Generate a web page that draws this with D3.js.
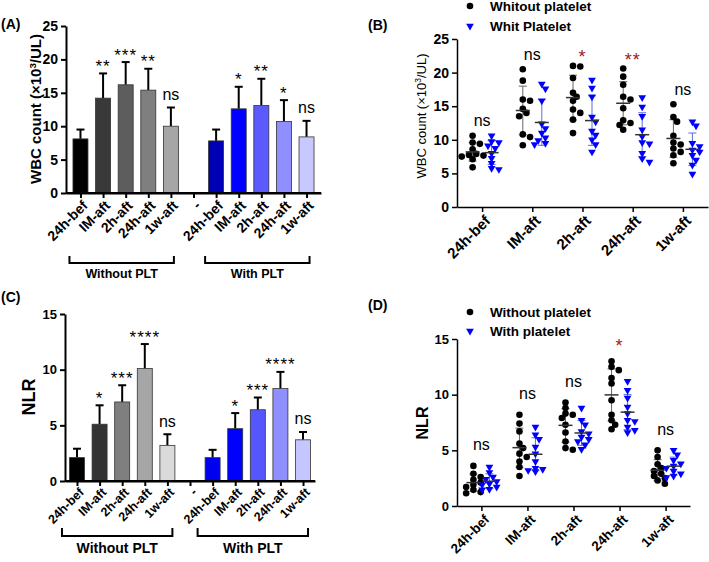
<!DOCTYPE html>
<html><head><meta charset="utf-8">
<script src="https://cdn.jsdelivr.net/npm/d3@7"></script>
<style>
body{margin:0;background:#fff}
svg{display:block}
text{font-family:Arial,"Liberation Sans",sans-serif}
</style>
</head><body>
<svg id="c" width="709" height="562"></svg>
<script>
// ---------------- DATA ----------------
const timepoints = ["24h-bef","IM-aft","2h-aft","24h-aft","1w-aft"];

// Panel A (bars: mean, SD)
const wbcBarWithout = [8.1, 14.2, 16.2, 15.4, 10.0];
const wbcSdWithout  = [1.4, 3.7, 3.4, 3.2, 2.8];
const wbcBarWith    = [7.8, 12.6, 13.1, 10.7, 8.4];
const wbcSdWith     = [1.7, 3.3, 4.0, 3.2, 2.4];
const wbcSigWithout = ["", "**", "***", "**", "ns"];
const wbcSigWith    = ["", "*", "**", "*", "ns"];

// Panel C (bars: mean, SD)
const nlrBarWithout = [2.1, 5.1, 7.1, 10.1, 3.2];
const nlrSdWithout  = [0.8, 1.7, 1.5, 2.2, 1.0];
const nlrBarWith    = [2.1, 4.7, 6.4, 8.3, 3.7];
const nlrSdWith     = [0.7, 1.4, 1.1, 1.5, 0.7];
const nlrSigWithout = ["", "*", "***", "****", "ns"];
const nlrSigWith    = ["", "*", "***", "****", "ns"];

// Panel B (individual points)
const wbcPtsWithout = [
  [10.6, 9.6, 9.4, 8.6, 7.9, 7.75, 7.65, 7.5, 7.1, 5.9],
  [20.5, 18.8, 16.0, 15.8, 14.6, 14.0, 13.5, 10.8, 10.4, 9.2],
  [21.0, 20.9, 19.2, 17.0, 16.4, 15.8, 14.5, 14.0, 13.0, 11.0],
  [20.6, 19.4, 18.2, 16.4, 16.0, 14.7, 12.9, 12.5, 12.2, 11.5],
  [15.3, 13.4, 12.7, 10.6, 9.6, 9.3, 8.7, 8.2, 7.7, 6.5]
];
const wbcPtsWith = [
  [10.6, 9.75, 9.6, 9.1, 8.75, 8.0, 7.25, 6.5, 5.75, 5.6],
  [18.3, 17.6, 15.8, 12.4, 11.7, 11.0, 10.3, 9.9, 9.5, 9.3],
  [18.9, 17.7, 16.4, 13.4, 12.7, 11.3, 10.7, 10.0, 9.3, 8.2],
  [16.3, 14.9, 13.5, 11.5, 10.5, 9.6, 9.4, 8.0, 7.2, 6.7],
  [12.7, 12.1, 9.5, 9.0, 8.5, 8.2, 7.7, 7.0, 6.25, 4.9]
];
const wbcScatterSig = ["ns", "ns", "*", "**", "ns"];

// Panel D (individual points)
const nlrPtsWithout = [
  [3.6, 2.9, 2.6, 2.35, 2.1, 1.9, 1.7, 1.45, 1.25, 1.15],
  [8.2, 7.4, 6.7, 5.6, 5.2, 4.7, 4.4, 4.0, 3.5, 2.7],
  [9.3, 8.8, 8.3, 8.2, 7.9, 7.3, 6.6, 5.8, 5.2, 5.05],
  [13.0, 12.5, 12.2, 11.5, 11.0, 9.5, 8.2, 7.7, 7.3, 6.9],
  [5.0, 4.4, 3.75, 3.4, 3.15, 2.9, 2.7, 2.5, 2.3, 2.0]
];
const nlrPtsWith = [
  [3.5, 3.0, 2.6, 2.4, 2.2, 2.0, 1.9, 1.7, 1.5, 1.45],
  [7.1, 6.4, 6.0, 5.3, 4.7, 4.0, 3.4, 3.3, 3.2, 3.1],
  [8.8, 7.7, 7.3, 6.7, 6.5, 6.2, 6.0, 5.8, 5.5, 5.1],
  [11.2, 10.4, 9.7, 8.9, 8.3, 7.7, 7.6, 7.1, 6.8, 6.6],
  [5.0, 4.6, 4.1, 3.8, 3.6, 3.4, 3.15, 2.9, 2.7, 2.55]
];
const nlrScatterSig = ["ns", "ns", "ns", "*", "ns"];

const wbcTicks = [0, 5, 10, 15, 20, 25];
const nlrTicks = [0, 5, 10, 15];

// ---------------- DRAWING ----------------
const svg = d3.select("#c");
const FONT = 'Arial, "Liberation Sans", sans-serif';

function styleAxis(sel, fs, sw) {
  sel.select(".domain").attr("stroke", "#000").attr("stroke-width", sw);
  sel.selectAll(".tick line").attr("stroke", "#000").attr("stroke-width", sw);
  sel.selectAll(".tick text").attr("fill", "#000").attr("font-size", fs)
     .attr("font-weight", "bold").attr("font-family", FONT);
}

function sigText(g, x, cy, label, color, fsStar, fsNs) {
  if (!label) return;
  const isStar = label.indexOf("*") >= 0;
  const fs = isStar ? fsStar : fsNs;
  g.append("text")
    .attr("x", x).attr("y", cy + (isStar ? fs * 0.62 : fs * 0.27))
    .attr("text-anchor", "middle")
    .attr("font-size", fs)
    .attr("letter-spacing", isStar ? 1 : 0)
    .attr("fill", color)
    .text(label);
}

function barPanel(o) {
  const g = svg.append("g");
  const labels = timepoints.concat(["-"], timepoints);
  const idx = d3.range(labels.length);
  const x = d3.scalePoint().domain(idx).range([o.x0, o.x1]).padding(o.pad);
  const y = d3.scaleLinear().domain([0, o.max]).range([o.y0, o.y1]);

  const ya = g.append("g").attr("transform", `translate(${o.x0},0)`)
    .call(d3.axisLeft(y).tickValues(o.ticks).tickSize(5).tickPadding(3).tickSizeOuter(0));
  styleAxis(ya, o.yfs, 2);

  const xa = g.append("g").attr("transform", `translate(0,${o.y0})`)
    .call(d3.axisBottom(x).tickFormat(i => labels[i]).tickSize(5).tickSizeOuter(0));
  styleAxis(xa, o.xfs, 2);
  xa.selectAll(".tick text")
    .attr("x", 0).attr("y", 0).attr("dy", "0.35em")
    .attr("text-anchor", "end")
    .attr("transform", `translate(${o.lx},${o.ly}) rotate(-45)`);

  const bars = [];
  o.without.forEach((v, i) => bars.push({i: i, v: v, sd: o.sdWithout[i], c: o.colWithout[i], s: o.sigWithout[i]}));
  o.with.forEach((v, i) => bars.push({i: i + 6, v: v, sd: o.sdWith[i], c: o.colWith[i], s: o.sigWith[i]}));

  const bw = o.bw;
  bars.forEach(b => {
    const cx = x(b.i);
    const top = y(b.v + b.sd);
    g.append("line").attr("x1", cx).attr("x2", cx).attr("y1", y(b.v)).attr("y2", top)
      .attr("stroke", "#000").attr("stroke-width", 2);
    g.append("line").attr("x1", cx - 4).attr("x2", cx + 4).attr("y1", top).attr("y2", top)
      .attr("stroke", "#000").attr("stroke-width", 2);
    g.append("rect").attr("x", cx - bw / 2).attr("width", bw)
      .attr("y", y(b.v)).attr("height", y(0) - y(b.v))
      .attr("fill", b.c).attr("stroke", "#333").attr("stroke-width", 0.8);
    sigText(g, cx, top - 12, b.s, "#000", o.starFs, o.nsFs);
  });
  g.append("line").attr("x1", o.x0).attr("x2", o.x1).attr("y1", o.y0).attr("y2", o.y0)
    .attr("stroke", "#000").attr("stroke-width", 2);

  const br = [
    {a: 0, b: 4, t: "Without PLT"},
    {a: 6, b: 10, t: "With PLT"}
  ];
  br.forEach(d => {
    const L = x(d.a) + o.brL, R = x(d.b) + o.brR;
    g.append("path")
      .attr("d", `M${L},${o.brY - o.brH}V${o.brY}H${R}V${o.brY - o.brH}`)
      .attr("fill", "none").attr("stroke", "#000").attr("stroke-width", 2);
    g.append("text").attr("x", (L + R) / 2).attr("y", o.brTextY)
      .attr("text-anchor", "middle").attr("font-size", o.brFs).attr("font-weight", "bold")
      .text(d.t);
  });

  g.append("text").attr("x", o.tagX).attr("y", o.tagY).attr("font-size", 14)
    .attr("font-weight", "bold").text(o.tag);

  const yl = g.append("text")
    .attr("transform", `translate(${o.ylx},${o.yly}) rotate(-90)`)
    .attr("text-anchor", "middle").attr("font-size", o.ylfs).attr("font-weight", "bold");
  o.ylab(yl);
}

function scatterPanel(o) {
  const g = svg.append("g");
  const x = d3.scalePoint().domain(timepoints).range([o.x0, o.x1]).padding(o.pad);
  const y = d3.scaleLinear().domain([0, o.max]).range([o.y0, o.y1]);

  const ya = g.append("g").attr("transform", `translate(${o.x0},0)`)
    .call(d3.axisLeft(y).tickValues(o.ticks).tickSize(5).tickPadding(3).tickSizeOuter(0));
  styleAxis(ya, o.yfs, 1.5);

  const xa = g.append("g").attr("transform", `translate(0,${o.y0})`)
    .call(d3.axisBottom(x).tickSize(5).tickSizeOuter(0));
  styleAxis(xa, o.xfs, 1.5);
  xa.selectAll(".tick text")
    .attr("x", 0).attr("y", 0).attr("dy", "0.35em")
    .attr("text-anchor", "end")
    .attr("transform", `translate(${o.lx},${o.ly}) rotate(-45)`);

  const r = 3.3;
  const tri = d3.symbol().type(d3.symbolTriangle).size(26);

  timepoints.forEach((tp, i) => {
    const groups = [
      {vals: o.without[i], off: -o.off, kind: "dot", sdCol: "#666"},
      {vals: o.with[i], off: o.off, kind: "tri", sdCol: "#5b6fd6"}
    ];
    let maxV = 0;
    groups.forEach(gr => {
      const cx = x(tp) + gr.off;
      const sorted = gr.vals.slice().sort((a, b) => b - a);
      const placed = [];
      sorted.forEach(v => {
        const py = y(v);
        const cands = [0, 1, -1, 2, -2, 3, -3].map(k => k * r * 1.1);
        let px = cx;
        for (const c of cands) {
          const tx = cx + c;
          if (placed.every(p => (p[0] - tx) ** 2 + (p[1] - py) ** 2 >= (2 * r * 0.75) ** 2)) { px = tx; break; }
        }
        placed.push([px, py]);
      });
      maxV = Math.max(maxV, d3.max(gr.vals));
      const m = d3.mean(gr.vals), sd = d3.deviation(gr.vals);
      g.append("line").attr("x1", cx).attr("x2", cx).attr("y1", y(m - sd)).attr("y2", y(m + sd))
        .attr("stroke", gr.sdCol).attr("stroke-width", 1);
      [m - sd, m + sd].forEach(vv => g.append("line").attr("x1", cx - 4).attr("x2", cx + 4)
        .attr("y1", y(vv)).attr("y2", y(vv)).attr("stroke", gr.sdCol).attr("stroke-width", 1));
      placed.forEach(p => {
        if (gr.kind === "dot") {
          g.append("circle").attr("cx", p[0]).attr("cy", p[1]).attr("r", r).attr("fill", "#000");
        } else {
          g.append("path").attr("d", tri).attr("transform", `translate(${p[0]},${p[1]}) rotate(180)`)
            .attr("fill", "#0000ff");
        }
      });
      g.append("line").attr("x1", cx - 7).attr("x2", cx + 7).attr("y1", y(m)).attr("y2", y(m))
        .attr("stroke", "#333").attr("stroke-width", 1.5);
    });
    const s = o.sig[i];
    const isStar = s.indexOf("*") >= 0;
    sigText(g, x(tp), y(maxV) - o.sigGap, s, isStar ? "#a01818" : "#000", o.starFs, o.nsFs);
  });

  const lg = g.append("g");
  lg.append("circle").attr("cx", o.legX).attr("cy", o.legY1).attr("r", r).attr("fill", "#000");
  lg.append("path").attr("d", tri).attr("transform", `translate(${o.legX},${o.legY2}) rotate(180)`).attr("fill", "#0000ff");
  lg.append("text").attr("x", o.legX + 20).attr("y", o.legY1 + 5).attr("font-size", 13.5).attr("font-weight", "bold").text(o.leg1);
  lg.append("text").attr("x", o.legX + 20).attr("y", o.legY2 + 5).attr("font-size", 13.5).attr("font-weight", "bold").text(o.leg2);

  g.append("text").attr("x", o.tagX).attr("y", o.tagY).attr("font-size", 14)
    .attr("font-weight", "bold").text(o.tag);

  const yl = g.append("text")
    .attr("transform", `translate(${o.ylx},${o.yly}) rotate(-90)`)
    .attr("text-anchor", "middle").attr("font-size", o.ylfs).attr("font-weight", o.ylw);
  o.ylab(yl);
}

function wbcLabel(t) {
  t.append("tspan").text("WBC count (×10");
  t.append("tspan").attr("font-size", "0.65em").attr("dy", "-0.55em").text("3");
  t.append("tspan").attr("dy", "0.36em").text("/UL)");
}

// Panel A
barPanel({
  x0: 66, x1: 321, y0: 193, y1: 26, max: 25, ticks: wbcTicks, pad: 0.64,
  without: wbcBarWithout, sdWithout: wbcSdWithout, with: wbcBarWith, sdWith: wbcSdWith,
  sigWithout: wbcSigWithout, sigWith: wbcSigWith,
  colWithout: ["#000000", "#393939", "#5d5d5d", "#7f7f7f", "#a6a6a6"],
  colWith: ["#0000b4", "#0000ff", "#5a5aff", "#8f8fff", "#c8c8ff"],
  bw: 15, yfs: 14, xfs: 14, lx: 4, ly: 10, starFs: 17, nsFs: 16,
  brL: -11, brR: 3, brY: 263, brH: 7, brTextY: 278, brFs: 12.5,
  tag: "(A)", tagX: 1, tagY: 29,
  ylx: 41, yly: 109, ylfs: 15, ylab: wbcLabel
});

// Panel C
barPanel({
  x0: 65, x1: 315, y0: 481, y1: 314, max: 15, ticks: nlrTicks, pad: 0.53,
  without: nlrBarWithout, sdWithout: nlrSdWithout, with: nlrBarWith, sdWith: nlrSdWith,
  sigWithout: nlrSigWithout, sigWith: nlrSigWith,
  colWithout: ["#000000", "#333333", "#7f7f7f", "#a6a6a6", "#dadada"],
  colWith: ["#0000f0", "#0000ff", "#5656ff", "#8f8fff", "#c5c5ff"],
  bw: 15, yfs: 13, xfs: 12.5, lx: 4, ly: 9, starFs: 17, nsFs: 16,
  brL: -15, brR: 5, brY: 536, brH: 8, brTextY: 553, brFs: 14,
  tag: "(C)", tagX: 1, tagY: 302,
  ylx: 35, yly: 397, ylfs: 18, ylab: t => t.text("NLR")
});

// Panel B
scatterPanel({
  x0: 457, x1: 708, y0: 207, y1: 39, max: 25, ticks: wbcTicks, pad: 0.5,
  without: wbcPtsWithout, with: wbcPtsWith, sig: wbcScatterSig, off: 9.5,
  yfs: 14, xfs: 15, lx: 5, ly: 11, sigGap: 14, starFs: 18, nsFs: 16,
  legX: 470, legY1: 6, legY2: 26, leg1: "Whitout platelet", leg2: "Whit Platelet",
  tag: "(B)", tagX: 368, tagY: 30,
  ylx: 426, yly: 116, ylfs: 13, ylw: "normal", ylab: wbcLabel
});

// Panel D
scatterPanel({
  x0: 457, x1: 690, y0: 506, y1: 339, max: 15, ticks: nlrTicks, pad: 0.53,
  without: nlrPtsWithout, with: nlrPtsWith, sig: nlrScatterSig, off: 8,
  yfs: 13, xfs: 13.5, lx: 5, ly: 11, sigGap: 20, starFs: 18, nsFs: 16,
  legX: 470, legY1: 312, legY2: 331, leg1: "Without platelet", leg2: "With platelet",
  tag: "(D)", tagX: 368, tagY: 310,
  ylx: 428, yly: 423, ylfs: 16, ylw: "bold", ylab: t => t.text("NLR")
});
</script>
</body></html>
